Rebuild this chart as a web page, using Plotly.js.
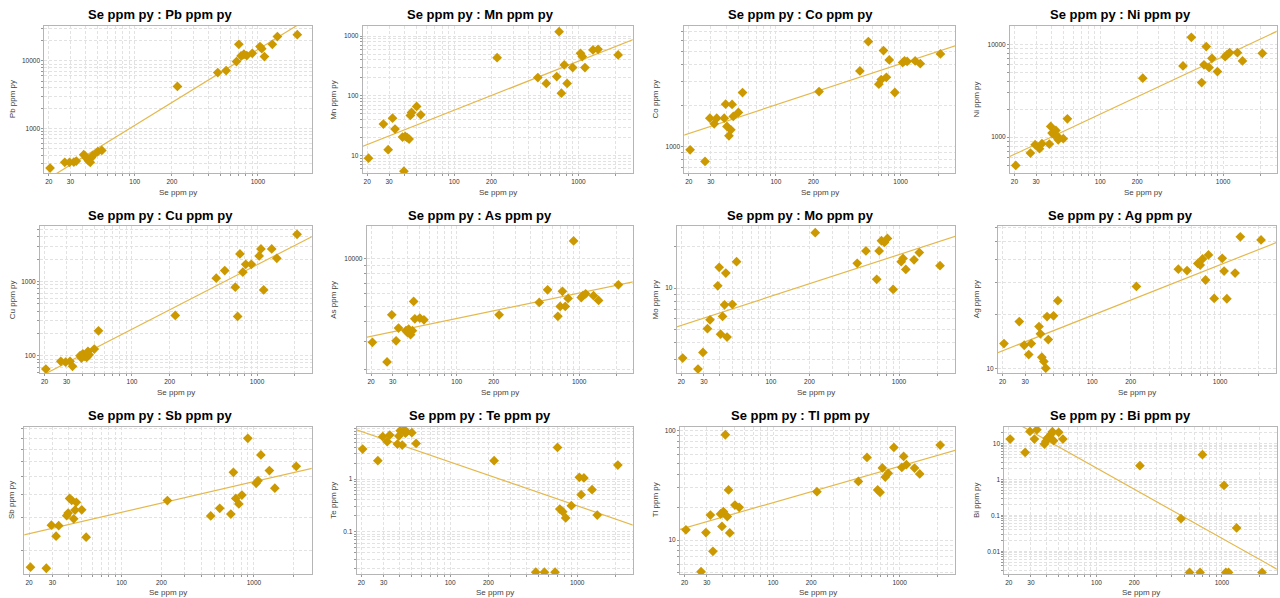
<!DOCTYPE html>
<html><head><meta charset="utf-8">
<script src="https://cdn.plot.ly/plotly-3.0.1.min.js"></script>
<style>html,body{margin:0;padding:0;background:#fff;} #chart{width:1280px;height:598px;}</style>
</head><body><div id="chart"></div>
<script>
// ---- data (ppm in pyrite) ----
const sePpm = [20.5, 27, 29.5, 32, 33.5, 38.5, 39.5, 40.5, 42, 43.5, 44.5, 45.5, 50, 54, 222, 472, 552, 670, 700, 730, 770, 812, 900, 1040, 1075, 1130, 1310, 1440, 2090];
const pbPpm = [259, 315, 315, 318, 329, 408, 390, 365, 333, 315, 370, 395, 452, 473, 4180, 6730, 7200, 9780, 17630, 11850, 12550, 12000, 12980, 16300, 15200, 11600, 17630, 22900, 24500];
const mnPpm = [9.1, 33.7, 12.6, 42.4, 27.8, 20.5, 5.5, 21, 20, 19, 47, 52.7, 66.4, 48.2, 435, 202, 161, 210, 1180, 111, 329, 161, 297, 514, 453, 297, 585, 600, 482];
const coPpm = [945, 776, 1611, 1466, 1611, 1611, 2042, 1400, 1197, 1324, 2030, 1660, 1774, 2484, 2525, 3580, 5870, 2858, 3090, 5040, 3210, 4306, 2485, 4120, 4236, 4200, 4236, 4045, 4764];
const niPpm = [495, 673, 827, 749, 848, 841, 1302, 1104, 1060, 1180, 1033, 936, 960, 1574, 4310, 5850, 11890, 3870, 6000, 9440, 5610, 7070, 5080, 7360, 7670, 8130, 8130, 6620, 8000];
const cuPpm = [66.2, 83.9, 82, 83.9, 71.9, 100, 93, 106, 98, 95, 114, 103, 123, 217, 349, 1109, 1406, 839, 338, 2356, 1335, 1710, 1710, 2213, 2750, 772, 2750, 2060, 4335];
const asPpm = [2970, 2235, 4430, 3040, 3655, 3516, 3434, 3600, 3320, 3516, 5370, 4180, 4220, 4120, 4430, 5300, 6360, 4330, 5000, 6220, 5000, 5610, 12910, 5690, 5860, 6000, 5840, 5450, 6840];
const moPpm = [3.09, 2.57, 3.40, 5.06, 5.88, 10.4, 14.2, 4.62, 6.22, 7.56, 12.9, 4.4, 7.63, 15.6, 25.4, 15.2, 18.7, 11.6, 18.7, 22.2, 21.6, 23.1, 9.8, 15.6, 16.5, 13.7, 16.1, 18.2, 14.6];
const agPpm = [13.8, 18.2, 13.5, 12, 13.8, 17.1, 15.6, 11.6, 11, 10.1, 19.4, 14.5, 19.6, 23.7, 28.4, 35.3, 34.7, 38, 37.2, 40.2, 30.8, 42.3, 24.4, 40.5, 34.5, 24.3, 33.6, 53.2, 51.1];
const sbPpm = [16.3, 16.1, 27.4, 23.9, 27.2, 30.8, 31.8, 38.1, 37.2, 29.6, 33, 36.3, 33.1, 23.6, 37.1, 30.7, 33.7, 31.4, 52.6, 38.1, 35.6, 39.7, 80, 45.9, 47.4, 65.1, 53.7, 43.2, 56.6];
const tePpm = [3.71, 2.23, 6.37, 5.11, 6.84, 4.62, 6.55, 8.27, 4.42, 8.52, 7.47, 7.9, 7.59, 4.75, 2.23, 0.017, 0.017, 0.017, 3.99, 0.269, 0.24, 0.182, 0.312, 1.08, 0.504, 1.05, 0.627, 0.207, 1.84];
const tlPpm = [12.4, 5.13, 11.7, 16.9, 7.88, 17.3, 13.3, 18.2, 91.9, 16.4, 28.7, 11.6, 20.9, 19.9, 27.7, 34.4, 57, 28.7, 27.3, 45.7, 37.7, 40.8, 70.4, 46.2, 58.2, 48.9, 45.6, 40.2, 74];
const biPpm = [13.2, 5.6, 21.5, 13.2, 24, 9.6, 11.4, 13.8, 15.3, 18.2, 21.1, 11.9, 20.2, 13.2, 2.4, 0.081, 0.0026, 0.0026, 4.84, null, null, null, null, 0.68, 0.0026, 0.0026, 0.0445, null, 0.0026];

const elementNames = ['Pb','Mn','Co','Ni','Cu','As','Mo','Ag','Sb','Te','Tl','Bi'];
const elementValues = [pbPpm, mnPpm, coPpm, niPpm, cuPpm, asPpm, moPpm, agPpm, sbPpm, tePpm, tlPpm, biPpm];
const xTickLabels = [20, 30, 100, 200, 1000];
const yTickLabels = [[1000,10000],[10,100,1000],[1000],[1000,10000],[100,1000],[10000],[10],[10],[],[0.1,1],[10,100],[0.01,0.1,1,10]];

// ---- layout geometry / styling ----
const W = 1280, H = 598;
const xRange = [1.265, 3.437];
const yRanges = [[2.34,4.517],[0.711,3.167],[2.805,3.883],[2.613,4.197],[1.767,3.749],[3.28,4.205],[0.381,1.454],[0.978,1.785],[1.176,1.965],[-1.804,0.994],[0.689,2.037],[-2.63,1.463]];
const plotX = [[44.3,311.7],[362.7,632.7],[684.3,955],[1010,1276.7],[40,311.7],[366.7,632.7],[676.7,955],[998,1276],[24.3,311.7],[356.7,632.7],[680,955],[1004.3,1276.7]];
const rowY = [[26,173],[226,373],[426.7,574]];
const yTitleX = [12.7,333.3,655,976,12.7,333.3,655,976.7,11.7,333.3,655,976.7];
const MARK = '#CC9900', LINE = '#E5B84C';

function logGrid(lo, hi){
  const out = [];
  for (let d = Math.floor(lo)-1; d <= Math.ceil(hi); d++){
    for (let m = 1; m <= 9; m++){
      const v = m*Math.pow(10,d);
      const l = Math.log10(v);
      if (l >= lo-1e-9 && l <= hi+1e-9) out.push(+v.toPrecision(6));
    }
  }
  return out;
}
function labelsFor(vals, labels){
  return vals.map(v => { const f = labels.find(L => Math.abs(v-L)/L < 1e-6); return f !== undefined ? String(f) : ''; });
}
function fitLine(xs, ys){
  const px=[], py=[];
  xs.forEach((x,i)=>{ const y=ys[i]; if (x!=null && y!=null && x>0 && y>0){ px.push(Math.log10(x)); py.push(Math.log10(y)); }});
  const n=px.length, mx=px.reduce((a,b)=>a+b,0)/n, my=py.reduce((a,b)=>a+b,0)/n;
  let sxy=0, sxx=0; for(let i=0;i<n;i++){ sxy+=(px[i]-mx)*(py[i]-my); sxx+=(px[i]-mx)**2; }
  const b = sxy/sxx, a = my - b*mx;
  return {a, b};
}

const traces = [];
const layout = {
  width: W, height: H, margin: {l:0,r:0,t:0,b:0},
  paper_bgcolor: '#fff', plot_bgcolor: '#fff', showlegend: false,
  font: {family: 'Liberation Sans, Arial, sans-serif', color: '#333'},
  annotations: []
};
const xGrid = logGrid(xRange[0], xRange[1]);

elementNames.forEach((el, i) => {
  const k = i+1, xa = 'x'+(k>1?k:''), ya = 'y'+(k>1?k:'');
  const row = Math.floor(i/4), col = i%4;
  const [x0,x1] = plotX[i], [y0,y1] = rowY[row];
  const ys = elementValues[i];
  const fit = fitLine(sePpm, ys);
  const lx = [Math.pow(10, xRange[0]-0.2), Math.pow(10, xRange[1]+0.2)];
  traces.push({x: lx, y: lx.map(x => Math.pow(10, fit.a + fit.b*Math.log10(x))), xaxis: xa, yaxis: ya,
    mode: 'lines', line: {color: LINE, width: 1.2}, hoverinfo: 'skip'});
  traces.push({x: sePpm, y: ys, xaxis: xa, yaxis: ya, mode: 'markers', cliponaxis: true,
    marker: {symbol: 'diamond', size: 7.5, color: MARK}, name: el});
  const yGrid = logGrid(yRanges[i][0], yRanges[i][1]);
  const common = {type: 'log', showgrid: true, gridcolor: '#e2e2e2', griddash: '3px,2px', gridwidth: 1,
    showline: true, linecolor: '#b5b5b5', linewidth: 1, mirror: true, zeroline: false,
    ticks: 'outside', ticklen: 2, tickcolor: '#999', tickfont: {size: 6.5, color: '#333'}, tickmode: 'array', fixedrange: true};
  layout['xaxis'+(k>1?k:'')] = Object.assign({}, common, {domain: [x0/W, x1/W], anchor: ya, range: xRange,
    tickvals: xGrid, ticktext: labelsFor(xGrid, xTickLabels)});
  layout['yaxis'+(k>1?k:'')] = Object.assign({}, common, {domain: [1-y1/H, 1-y0/H], anchor: xa, range: yRanges[i],
    tickvals: yGrid, ticktext: labelsFor(yGrid, yTickLabels[i])});
  layout.annotations.push({text: '<b>Se ppm py : ' + el + ' ppm py</b>', xref: 'paper', yref: 'paper',
    x: (col*320+160)/W, y: 1-(row*200+15)/H, xanchor: 'center', yanchor: 'middle', showarrow: false,
    font: {size: 13, color: '#000'}});
  layout.annotations.push({text: 'Se ppm py', xref: 'paper', yref: 'paper',
    x: ((x0+x1)/2)/W, y: 1-(row*200+192.7)/H, xanchor: 'center', yanchor: 'middle', showarrow: false,
    font: {size: 8, color: '#444'}});
  layout.annotations.push({text: el + ' ppm py', xref: 'paper', yref: 'paper', textangle: -90,
    x: yTitleX[i]/W, y: 1-((y0+y1)/2)/H, xanchor: 'center', yanchor: 'middle', showarrow: false,
    font: {size: 8, color: '#444'}});
});

Plotly.newPlot('chart', traces, layout, {staticPlot: true, displayModeBar: false});
</script></body></html>
